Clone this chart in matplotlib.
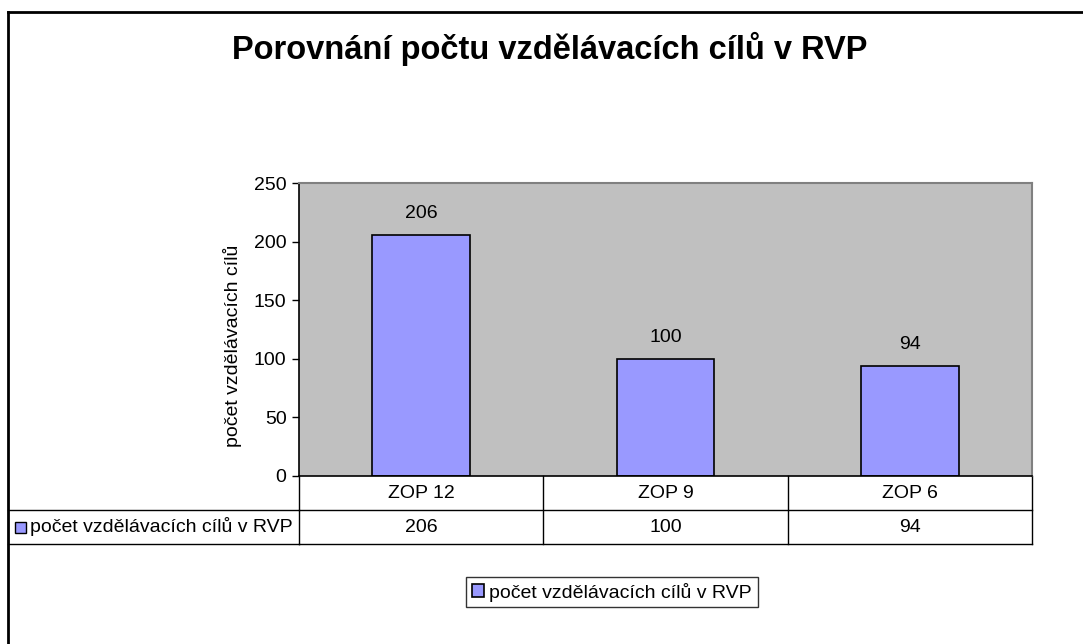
import matplotlib
matplotlib.use("Agg")
import matplotlib.pyplot as plt
from matplotlib.lines import Line2D
from matplotlib.transforms import Bbox

# Data
categories = ["ZOP 12", "ZOP 9", "ZOP 6"]
values = [206, 100, 94]
series_name = "počet vzdělávacích cílů v RVP"
y_label = "počet vzdělávacích cílů"
title = "Porovnání počtu vzdělávacích cílů v RVP"
y_ticks = [0, 50, 100, 150, 200, 250]

BAR_COLOR = "#9999FF"
PLOT_BG = "#C0C0C0"
FS = 14

plt.rcParams["font.family"] = ["Liberation Sans", "DejaVu Sans"]

W, H = 1083, 644
fig = plt.figure(figsize=(W / 100, H / 100), dpi=100)
fig.patch.set_facecolor("white")


def fx(px):
    return px / W


def fy(py):
    return 1 - py / H


# outer frame: only left and top edges visible
fig.add_artist(Line2D([fx(8), fx(8)], [fy(12), 0], color="black", lw=2, transform=fig.transFigure))
fig.add_artist(Line2D([fx(8), 1], [fy(12), fy(12)], color="black", lw=2, transform=fig.transFigure))

fig.text(fx(550), fy(49), title, ha="center", va="center", fontsize=23.5, fontweight="bold")

ax = fig.add_axes([fx(299), fy(476), fx(1032) - fx(299), fy(183) - fy(476)])
ax.set_facecolor(PLOT_BG)
x = list(range(len(categories)))
bars = ax.bar(x, values, width=0.4, color=BAR_COLOR, edgecolor="black", linewidth=1.2, label=series_name)
ax.bar_label(bars, labels=[str(v) for v in values], padding=9, fontsize=FS)

ax.set_xlim(-0.5, len(categories) - 0.5)
ax.set_ylim(0, 250)
ax.set_yticks(y_ticks)
ax.tick_params(axis="y", labelsize=FS, length=5, width=1, direction="out", pad=4)
ax.set_xticks([])
for side in ("top", "right"):
    ax.spines[side].set_color("#808080")
    ax.spines[side].set_linewidth(1.5)
for side in ("left", "bottom"):
    ax.spines[side].set_color("black")
    ax.spines[side].set_linewidth(1.2)

# rotated y label, clipped at the top like in the original
yl = fig.text(fx(232), fy(447), y_label, rotation=90, ha="center", va="bottom", fontsize=FS)
yl.set_clip_box(Bbox.from_extents(0, 0, W, H - 238))
yl.set_clip_on(True)

# data table under the plot area
row_h = 34 / (476 - 183)
tr = ax.get_xaxis_transform()
kw = dict(color="black", lw=1, clip_on=False)
for i in range(len(categories) + 1):
    xb = i - 0.5
    ax.plot([xb, xb], [0, -2 * row_h], transform=tr, **kw)
ax.plot([-0.5, len(categories) - 0.5], [-row_h, -row_h], transform=tr, **kw)
ax.plot([-0.5, len(categories) - 0.5], [-2 * row_h, -2 * row_h], transform=tr, **kw)

# row label cell extends to the outer frame
ax_w = 1032 - 299
left_ax = (8 - 299) / ax_w
ax.plot([left_ax, 0], [-row_h, -row_h], transform=ax.transAxes, **kw)
ax.plot([left_ax, 0], [-2 * row_h, -2 * row_h], transform=ax.transAxes, **kw)

for xi, cat, val in zip(x, categories, values):
    ax.text(xi, -0.5 * row_h, cat, transform=tr, ha="center", va="center", fontsize=FS)
    ax.text(xi, -1.5 * row_h, str(val), transform=tr, ha="center", va="center", fontsize=FS)

sq_w, sq_h = 11 / ax_w, 11 / 293
ax.add_patch(plt.Rectangle((left_ax + 7 / ax_w, -1.5 * row_h - sq_h / 2), sq_w, sq_h,
                           transform=ax.transAxes, facecolor=BAR_COLOR, edgecolor="black",
                           lw=1, clip_on=False))
ax.text(left_ax + 22 / ax_w, -1.5 * row_h, series_name, transform=ax.transAxes,
        ha="left", va="center", fontsize=FS)

leg = fig.legend(handles=[bars], labels=[series_name], loc="center",
                 bbox_to_anchor=(fx(612), fy(592)), fontsize=FS, frameon=True,
                 fancybox=False, edgecolor="black", handlelength=0.6, handleheight=0.6,
                 handletextpad=0.3, borderpad=0.3, borderaxespad=0)
leg.get_frame().set_linewidth(1)

fig.savefig("out.png", dpi=100, facecolor="white")
